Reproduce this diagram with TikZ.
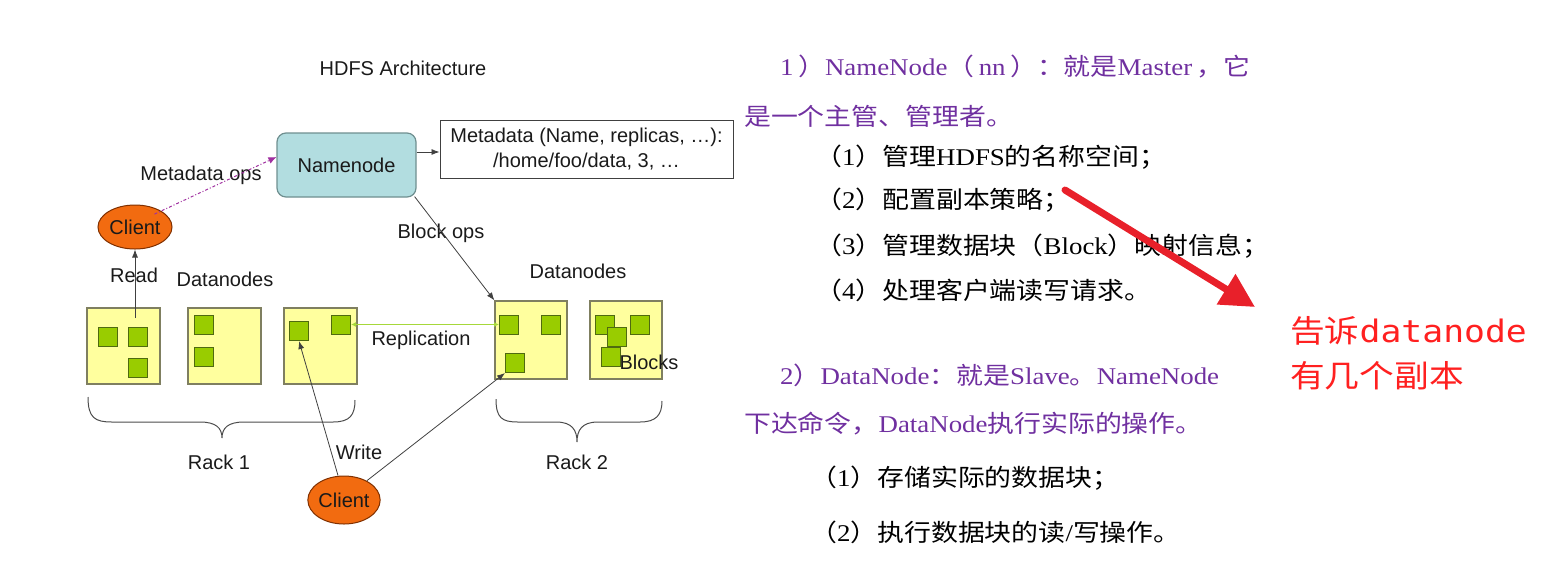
\documentclass[tikz,border=0pt]{standalone}
\usepackage{fontspec}
\setmainfont{Liberation Serif}
\newfontfamily\arialf{Liberation Sans}
\newfontfamily\cjk{Noto Sans CJK SC}
\newfontfamily\monof{DejaVu Sans Mono}
\usetikzlibrary{shapes.geometric,arrows.meta}
\newcommand\zh[1]{{\cjk #1}}
\definecolor{nnfill}{HTML}{B2DDE0}
\definecolor{nnline}{HTML}{6F8F90}
\definecolor{dnfill}{HTML}{FFFF9E}
\definecolor{dnline}{HTML}{7F7F60}
\definecolor{blkfill}{HTML}{99CC00}
\definecolor{blkline}{HTML}{4F6A10}
\definecolor{clfill}{HTML}{F26B10}
\definecolor{clline}{HTML}{803000}
\definecolor{purp}{HTML}{7030A0}
\definecolor{dotp}{HTML}{A030A0}
\definecolor{repl}{HTML}{A6D83A}
\definecolor{redc}{HTML}{E8202A}
\definecolor{redt}{HTML}{FF2020}
\definecolor{txt}{HTML}{1A1A1A}
\tikzset{
  lbl/.style={font=\arialf\fontsize{20}{22}\selectfont, text=txt, inner sep=0pt},
  dnbox/.style={draw=dnline, fill=dnfill, line width=1.2pt, minimum width=73pt, minimum height=76pt, inner sep=0pt},
  blk/.style={draw=blkline, fill=blkfill, line width=1pt, minimum size=19pt, inner sep=0pt},
  client/.style={ellipse, draw=clline, fill=clfill, line width=1pt, inner sep=0pt, font=\arialf\fontsize{20}{22}\selectfont, text=txt},
  conn/.style={draw=black!75, line width=0.8pt, -{Latex[length=8pt,width=6pt]}},
  brc/.style={draw=black!70, line width=1pt},
  rtxt/.style={anchor=base west, inner sep=0pt, font=\fontsize{24}{28}\selectfont, xscale=1.12, transform shape},
  rnote/.style={anchor=base west, inner sep=0pt, text=redt, font=\fontsize{31}{36}\selectfont, xscale=1.12, transform shape},
}
\begin{document}
\begin{tikzpicture}[x=1pt,y=-1pt]
\useasboundingbox (0,0) rectangle (1568,566);
% title
\node[lbl] (title) at (403,68) {HDFS Architecture};
% namenode and metadata
\node[draw=nnline, fill=nnfill, line width=1.2pt, rounded corners=9pt, minimum width=139pt, minimum height=64pt, lbl, inner sep=0pt] (nn) at (346.5,165) {Namenode};
\node[draw=black!75, line width=1pt, minimum width=293pt, minimum height=58pt, inner sep=0pt, align=center, font=\arialf\fontsize{20}{25}\selectfont, text=txt] (meta) at (586.5,149) {Metadata (Name, replicas, \dots):\\/home/foo/data, 3, \dots};
\draw[conn] (nn.east |- 0,152) -- (meta.west |- 0,152);
% clients
\node[client, minimum width=74pt, minimum height=44pt] (c1) at (135,227) {Client};
\node[client, minimum width=72pt, minimum height=48pt] (c2) at (344,500) {Client};
% datanode boxes
\node[dnbox] (b1) at (123.5,346) {};
\node[dnbox] (b2) at (224.5,346) {};
\node[dnbox] (b3) at (320.5,346) {};
\node[dnbox, minimum width=72pt, minimum height=78pt] (b4) at (531,340) {};
\node[dnbox, minimum width=72pt, minimum height=78pt] (b5) at (626,340) {};
% blocks
\node[blk] (s1a) at (107.5,337) {};
\node[blk] (s1b) at (137.5,337) {};
\node[blk] (s1c) at (137.5,368) {};
\node[blk] (s2a) at (203.5,324.5) {};
\node[blk] (s2b) at (203.5,356.5) {};
\node[blk] (s3a) at (299,331) {};
\node[blk] (s3b) at (341,324.5) {};
\node[blk] (s4a) at (509,324.5) {};
\node[blk] (s4b) at (551,324.5) {};
\node[blk] (s4c) at (515,363) {};
\node[blk] (s5a) at (605,324.5) {};
\node[blk] (s5b) at (640,324.5) {};
\node[blk] (s5c) at (616.5,337) {};
\node[blk] (s5d) at (610.5,356.5) {};
% labels
\node[lbl] (lmo) at (201,175) {Metadata ops};
\node[lbl] (lbo) at (441,233) {Block ops};
\node[lbl] (lread) at (134,275) {Read};
\node[lbl] (ldn1) at (225,279) {Datanodes};
\node[lbl] (ldn2) at (578,271) {Datanodes};
\node[lbl] (lrep) at (421,340) {Replication};
\node[lbl] (lblk) at (649,362) {Blocks};
\node[lbl] (lr1) at (219,462) {Rack 1};
\node[lbl] (lr2) at (577,462) {Rack 2};
\node[lbl] (lw) at (359,452) {Write};
% connectors
\coordinate (rs) at (135,318);
\draw[conn] (rs) -- (c1.south);
\draw[draw=dotp, line width=1pt, dash dot, -{Latex[length=8pt,width=7pt]}] (c1.north east) ++(-7,3) -- (nn.west |- 0,157);
\draw[conn] (nn.south east) ++(-2,-1) -- (b4.north west);
\draw[draw=repl, line width=1.2pt, {Latex[length=5pt,width=5pt]}-{Latex[length=5pt,width=5pt]}] (s3b.east) -- (s4a.west);
\draw[conn] (c2.north) ++(-6,0) -- (s3a.south);
\draw[conn] (c2.north east) ++(-3,-2) -- (s4c.south west);
% braces
\draw[brc] (88,397) .. controls (88,418) and (95,422) .. (112,422) -- (200,422) .. controls (216,422) and (222,428) .. (222,438) .. controls (222,428) and (228,422) .. (244,422) -- (333,422) .. controls (350,422) and (355,415) .. (355,400);
\draw[brc] (496,399) .. controls (496,418) and (502,422) .. (518,422) -- (556,422) .. controls (572,422) and (577,430) .. (577,442) .. controls (577,430) and (582,422) .. (598,422) -- (640,422) .. controls (656,422) and (662,415) .. (662,401);
% right text
\node[rtxt, text=purp] (t1) at (780,75) {1\,\zh{）}NameNode\zh{（}\,nn\,\zh{）：就是}Master\,\zh{，它}};
\node[rtxt, text=purp] (t2) at (744,125) {\zh{是一个主管、管理者。}};
\node[rtxt] (t3) at (815,165) {\zh{（}1\zh{）管理}HDFS\zh{的名称空间；}};
\node[rtxt] (t4) at (815,208) {\zh{（}2\zh{）配置副本策略；}};
\node[rtxt] (t5) at (815,254) {\zh{（}3\zh{）管理数据块（}Block\zh{）映射信息；}};
\node[rtxt] (t6) at (815,299) {\zh{（}4\zh{）处理客户端读写请求。}};
\node[rtxt, text=purp] (t7) at (780,384) {2\zh{）}DataNode\zh{：就是}Slave\zh{。}NameNode};
\node[rtxt, text=purp] (t8) at (744,432) {\zh{下达命令，}DataNode\zh{执行实际的操作。}};
\node[rtxt] (t9) at (810,486) {\zh{（}1\zh{）存储实际的数据块；}};
\node[rtxt] (t10) at (810,541) {\zh{（}2\zh{）执行数据块的读}/\zh{写操作。}};
% red note
\node[rnote] (n1) at (1290,342) {\zh{告诉}{\monof datanode}};
\node[rnote] (n2) at (1290,387) {\zh{有几个副本}};
\coordinate (ra) at (1065,190);
\coordinate (rb) at (1255,307);
\draw[draw=redc, line width=7pt, line cap=round, -{Triangle[length=34pt,width=34pt]}] (ra) -- (rb);
\end{tikzpicture}
\end{document}
